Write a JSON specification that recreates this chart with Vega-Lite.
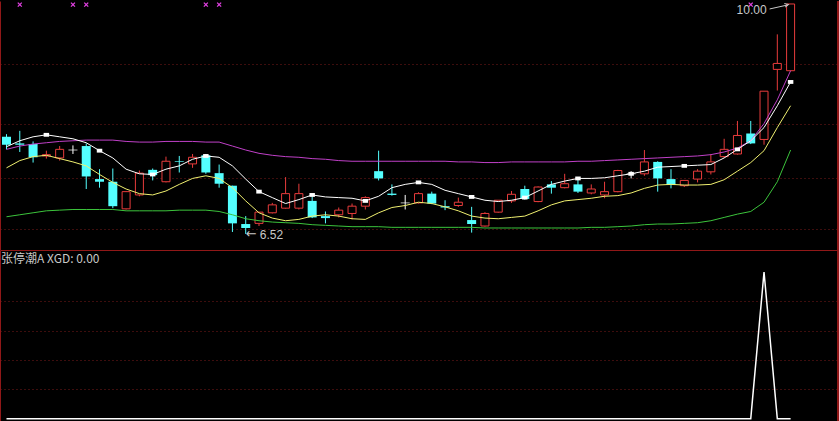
{
"$schema": "https://vega.github.io/schema/vega-lite/v6.json",
"background": "#000000",
"padding": 0,
"spacing": 0,
"bounds": "flush",
"config": {"view": {"stroke": null}, "scale": {"continuousPadding": 0}},
"datasets": {"k": [
{"i":0,"o":7.99,"h":8.03,"l":7.80,"c":7.87,"wma":7.84,"yma":7.52,"gma":6.78,"mma":7.80,"sig":0,"xgd":0},
{"i":1,"o":7.89,"h":8.08,"l":7.76,"c":7.87,"wma":7.93,"yma":7.63,"gma":6.81,"mma":7.85,"sig":1,"xgd":0},
{"i":2,"o":7.88,"h":7.92,"l":7.60,"c":7.68,"wma":7.99,"yma":7.69,"gma":6.84,"mma":7.88,"sig":0,"xgd":0},
{"i":3,"o":7.70,"h":7.78,"l":7.66,"c":7.72,"wma":8.02,"yma":7.71,"gma":6.87,"mma":7.90,"sig":0,"xgd":0},
{"i":4,"o":7.67,"h":7.85,"l":7.63,"c":7.80,"wma":7.99,"yma":7.66,"gma":6.88,"mma":7.92,"sig":0,"xgd":0},
{"i":5,"o":7.79,"h":7.86,"l":7.73,"c":7.79,"wma":7.96,"yma":7.61,"gma":6.89,"mma":7.93,"sig":1,"xgd":0},
{"i":6,"o":7.85,"h":7.89,"l":7.20,"c":7.39,"wma":7.90,"yma":7.55,"gma":6.89,"mma":7.94,"sig":1,"xgd":0},
{"i":7,"o":7.35,"h":7.50,"l":7.22,"c":7.31,"wma":7.78,"yma":7.42,"gma":6.89,"mma":7.94,"sig":0,"xgd":0},
{"i":8,"o":7.31,"h":7.51,"l":6.91,"c":6.94,"wma":7.67,"yma":7.30,"gma":6.89,"mma":7.94,"sig":0,"xgd":0},
{"i":9,"o":6.90,"h":7.17,"l":6.89,"c":7.16,"wma":7.50,"yma":7.20,"gma":6.87,"mma":7.92,"sig":0,"xgd":0},
{"i":10,"o":7.11,"h":7.48,"l":7.09,"c":7.44,"wma":7.43,"yma":7.13,"gma":6.87,"mma":7.91,"sig":0,"xgd":0},
{"i":11,"o":7.49,"h":7.51,"l":7.33,"c":7.41,"wma":7.42,"yma":7.11,"gma":6.87,"mma":7.91,"sig":0,"xgd":0},
{"i":12,"o":7.31,"h":7.69,"l":7.30,"c":7.62,"wma":7.50,"yma":7.17,"gma":6.87,"mma":7.92,"sig":0,"xgd":0},
{"i":13,"o":7.62,"h":7.70,"l":7.45,"c":7.61,"wma":7.55,"yma":7.27,"gma":6.88,"mma":7.92,"sig":0,"xgd":0},
{"i":14,"o":7.58,"h":7.73,"l":7.52,"c":7.68,"wma":7.65,"yma":7.36,"gma":6.88,"mma":7.92,"sig":0,"xgd":0},
{"i":15,"o":7.71,"h":7.73,"l":7.43,"c":7.45,"wma":7.70,"yma":7.40,"gma":6.88,"mma":7.91,"sig":1,"xgd":0},
{"i":16,"o":7.44,"h":7.57,"l":7.22,"c":7.28,"wma":7.68,"yma":7.36,"gma":6.86,"mma":7.91,"sig":1,"xgd":0},
{"i":17,"o":7.25,"h":7.25,"l":6.55,"c":6.68,"wma":7.55,"yma":7.22,"gma":6.81,"mma":7.85,"sig":0,"xgd":0},
{"i":18,"o":6.67,"h":6.79,"l":6.52,"c":6.61,"wma":7.35,"yma":7.02,"gma":6.75,"mma":7.79,"sig":0,"xgd":0},
{"i":19,"o":6.68,"h":6.85,"l":6.64,"c":6.85,"wma":7.16,"yma":6.84,"gma":6.72,"mma":7.74,"sig":0,"xgd":0},
{"i":20,"o":6.84,"h":6.99,"l":6.83,"c":6.96,"wma":7.07,"yma":6.76,"gma":6.70,"mma":7.71,"sig":0,"xgd":0},
{"i":21,"o":6.91,"h":7.38,"l":6.90,"c":7.13,"wma":6.98,"yma":6.72,"gma":6.69,"mma":7.69,"sig":0,"xgd":0},
{"i":22,"o":6.91,"h":7.28,"l":6.89,"c":7.13,"wma":7.04,"yma":6.74,"gma":6.68,"mma":7.68,"sig":0,"xgd":0},
{"i":23,"o":7.02,"h":7.09,"l":6.76,"c":6.77,"wma":7.11,"yma":6.79,"gma":6.66,"mma":7.66,"sig":0,"xgd":0},
{"i":24,"o":6.79,"h":6.86,"l":6.68,"c":6.76,"wma":7.08,"yma":6.81,"gma":6.65,"mma":7.65,"sig":0,"xgd":0},
{"i":25,"o":6.81,"h":6.92,"l":6.77,"c":6.88,"wma":7.07,"yma":6.79,"gma":6.64,"mma":7.63,"sig":0,"xgd":0},
{"i":26,"o":6.83,"h":6.98,"l":6.74,"c":6.94,"wma":7.06,"yma":6.75,"gma":6.63,"mma":7.62,"sig":0,"xgd":0},
{"i":27,"o":6.94,"h":7.09,"l":6.89,"c":7.07,"wma":7.02,"yma":6.74,"gma":6.63,"mma":7.62,"sig":0,"xgd":0},
{"i":28,"o":7.47,"h":7.78,"l":7.33,"c":7.36,"wma":7.09,"yma":6.84,"gma":6.63,"mma":7.62,"sig":0,"xgd":0},
{"i":29,"o":7.13,"h":7.27,"l":7.10,"c":7.11,"wma":7.22,"yma":6.92,"gma":6.62,"mma":7.62,"sig":0,"xgd":0},
{"i":30,"o":6.99,"h":7.11,"l":6.89,"c":6.99,"wma":7.27,"yma":6.95,"gma":6.62,"mma":7.62,"sig":0,"xgd":0},
{"i":31,"o":6.99,"h":7.15,"l":6.98,"c":7.13,"wma":7.30,"yma":7.00,"gma":6.62,"mma":7.62,"sig":0,"xgd":0},
{"i":32,"o":7.13,"h":7.16,"l":6.97,"c":6.98,"wma":7.27,"yma":6.98,"gma":6.62,"mma":7.62,"sig":0,"xgd":0},
{"i":33,"o":6.94,"h":7.03,"l":6.88,"c":6.92,"wma":7.18,"yma":6.93,"gma":6.62,"mma":7.62,"sig":0,"xgd":0},
{"i":34,"o":6.95,"h":7.07,"l":6.93,"c":7.00,"wma":7.13,"yma":6.87,"gma":6.62,"mma":7.61,"sig":0,"xgd":0},
{"i":35,"o":6.73,"h":6.93,"l":6.54,"c":6.67,"wma":7.08,"yma":6.79,"gma":6.62,"mma":7.61,"sig":0,"xgd":0},
{"i":36,"o":6.64,"h":6.85,"l":6.63,"c":6.83,"wma":7.03,"yma":6.76,"gma":6.61,"mma":7.60,"sig":0,"xgd":0},
{"i":37,"o":6.85,"h":7.03,"l":6.84,"c":7.03,"wma":7.01,"yma":6.75,"gma":6.61,"mma":7.60,"sig":0,"xgd":0},
{"i":38,"o":7.02,"h":7.17,"l":6.99,"c":7.12,"wma":7.03,"yma":6.77,"gma":6.61,"mma":7.61,"sig":0,"xgd":0},
{"i":39,"o":7.20,"h":7.25,"l":7.04,"c":7.05,"wma":7.07,"yma":6.79,"gma":6.61,"mma":7.61,"sig":0,"xgd":0},
{"i":40,"o":7.01,"h":7.24,"l":7.00,"c":7.23,"wma":7.17,"yma":6.87,"gma":6.61,"mma":7.61,"sig":0,"xgd":0},
{"i":41,"o":7.27,"h":7.32,"l":7.13,"c":7.22,"wma":7.27,"yma":6.96,"gma":6.61,"mma":7.61,"sig":0,"xgd":0},
{"i":42,"o":7.22,"h":7.43,"l":7.21,"c":7.28,"wma":7.32,"yma":7.02,"gma":6.61,"mma":7.61,"sig":0,"xgd":0},
{"i":43,"o":7.27,"h":7.37,"l":7.14,"c":7.16,"wma":7.36,"yma":7.04,"gma":6.61,"mma":7.62,"sig":0,"xgd":0},
{"i":44,"o":7.14,"h":7.27,"l":7.12,"c":7.20,"wma":7.36,"yma":7.06,"gma":6.62,"mma":7.62,"sig":0,"xgd":0},
{"i":45,"o":7.11,"h":7.31,"l":7.06,"c":7.16,"wma":7.37,"yma":7.09,"gma":6.62,"mma":7.63,"sig":0,"xgd":0},
{"i":46,"o":7.16,"h":7.49,"l":7.15,"c":7.48,"wma":7.40,"yma":7.10,"gma":6.63,"mma":7.64,"sig":0,"xgd":0},
{"i":47,"o":7.43,"h":7.47,"l":7.36,"c":7.43,"wma":7.43,"yma":7.14,"gma":6.64,"mma":7.65,"sig":0,"xgd":0},
{"i":48,"o":7.43,"h":7.79,"l":7.40,"c":7.61,"wma":7.47,"yma":7.21,"gma":6.66,"mma":7.66,"sig":0,"xgd":0},
{"i":49,"o":7.61,"h":7.62,"l":7.16,"c":7.36,"wma":7.53,"yma":7.26,"gma":6.67,"mma":7.67,"sig":0,"xgd":0},
{"i":50,"o":7.35,"h":7.50,"l":7.21,"c":7.26,"wma":7.54,"yma":7.27,"gma":6.67,"mma":7.68,"sig":0,"xgd":0},
{"i":51,"o":7.25,"h":7.33,"l":7.23,"c":7.33,"wma":7.55,"yma":7.26,"gma":6.68,"mma":7.69,"sig":0,"xgd":0},
{"i":52,"o":7.35,"h":7.50,"l":7.30,"c":7.47,"wma":7.56,"yma":7.26,"gma":6.69,"mma":7.70,"sig":0,"xgd":0},
{"i":53,"o":7.46,"h":7.73,"l":7.42,"c":7.61,"wma":7.57,"yma":7.27,"gma":6.72,"mma":7.72,"sig":0,"xgd":0},
{"i":54,"o":7.69,"h":7.96,"l":7.67,"c":7.80,"wma":7.67,"yma":7.34,"gma":6.77,"mma":7.76,"sig":0,"xgd":0},
{"i":55,"o":7.73,"h":8.23,"l":7.72,"c":8.01,"wma":7.80,"yma":7.47,"gma":6.82,"mma":7.82,"sig":0,"xgd":0},
{"i":56,"o":8.04,"h":8.23,"l":7.88,"c":7.89,"wma":7.93,"yma":7.60,"gma":6.86,"mma":7.93,"sig":1,"xgd":0},
{"i":57,"o":7.95,"h":8.68,"l":7.87,"c":8.68,"wma":8.13,"yma":7.78,"gma":7.00,"mma":8.19,"sig":0,"xgd":1},
{"i":58,"o":9.01,"h":9.54,"l":8.69,"c":9.10,"wma":8.46,"yma":8.13,"gma":7.31,"mma":8.55,"sig":0,"xgd":0},
{"i":59,"o":8.99,"h":10.00,"l":8.99,"c":10.00,"wma":8.82,"yma":8.46,"gma":7.79,"mma":8.99,"sig":0,"xgd":0}
]},
"vconcat": [
{
 "width": 838, "height": 249,
 "data": {"name": "k"},
 "encoding": {"x": {"field": "i", "type": "quantitative", "scale": {"domain": [-0.489, 62.566], "nice": false, "zero": false, "padding": 0}, "axis": null}},
 "layer": [
  {"transform": [{"filter": "datum.c > datum.o"}],
   "mark": {"type": "rule", "color": "#e83c3c", "strokeWidth": 1},
   "encoding": {"y": {"field": "h", "type": "quantitative", "title": null, "scale": {"domain": [6.277, 10.045], "nice": false, "zero": false, "padding": 0},
     "axis": {"values": [6.6, 7.362, 8.179, 9.096], "labels": false, "ticks": false, "domain": true, "domainColor": "#901818", "domainWidth": 1, "grid": true, "gridColor": "#7a1a1a", "gridDash": [1, 3], "title": null}},
    "y2": {"field": "c"}}},
  {"mark": {"type": "rule", "color": "#901818", "strokeWidth": 1},
   "encoding": {"x": {"datum": 62.566, "type": "quantitative"}}},
  {"transform": [{"filter": "datum.c > datum.o"}],
   "mark": {"type": "rule", "color": "#e83c3c", "strokeWidth": 1},
   "encoding": {"y": {"field": "o", "type": "quantitative", "title": null}, "y2": {"field": "l"}}},
  {"transform": [{"filter": "datum.c <= datum.o"}],
   "mark": {"type": "rule", "strokeWidth": 1},
   "encoding": {"y": {"field": "h", "type": "quantitative", "title": null}, "y2": {"field": "l"},
    "color": {"condition": {"test": "datum.c == datum.o", "value": "#ffffff"}, "value": "#54ffff"}}},
  {"transform": [{"filter": "datum.c > datum.o"}],
   "mark": {"type": "bar", "width": 8, "fill": "#000000", "stroke": "#e83c3c", "strokeWidth": 1},
   "encoding": {"y": {"field": "o", "type": "quantitative", "title": null}, "y2": {"field": "c"}}},
  {"transform": [{"filter": "datum.c < datum.o"}],
   "mark": {"type": "bar", "width": 9, "color": "#54ffff"},
   "encoding": {"y": {"field": "o", "type": "quantitative", "title": null}, "y2": {"field": "c"}}},
  {"transform": [{"filter": "datum.c == datum.o"}],
   "mark": {"type": "tick", "orient": "horizontal", "size": 9, "thickness": 1, "color": "#ffffff"},
   "encoding": {"y": {"field": "c", "type": "quantitative", "title": null}}},
  {"mark": {"type": "line", "color": "#3cc43c", "strokeWidth": 1},
   "encoding": {"y": {"field": "gma", "type": "quantitative", "title": null}}},
  {"mark": {"type": "line", "color": "#f0f070", "strokeWidth": 1},
   "encoding": {"y": {"field": "yma", "type": "quantitative", "title": null}}},
  {"mark": {"type": "line", "color": "#c040c8", "strokeWidth": 1},
   "encoding": {"y": {"field": "mma", "type": "quantitative", "title": null}}},
  {"mark": {"type": "line", "color": "#ffffff", "strokeWidth": 1},
   "encoding": {"y": {"field": "wma", "type": "quantitative", "title": null}}},
  {"transform": [{"filter": "datum.i % 4 == 3"}],
   "mark": {"type": "point", "shape": "M-1,-0.7L1,-0.7L1,0.7L-1,0.7Z", "filled": true, "size": 30, "color": "#ffffff", "opacity": 1},
   "encoding": {"y": {"field": "wma", "type": "quantitative", "title": null}}},
  {"transform": [{"filter": "datum.sig == 1"}],
   "mark": {"type": "point", "shape": "M-1,-1L1,1M-1,1L1,-1", "filled": false, "size": 16, "stroke": "#e040e0", "strokeWidth": 1.3, "opacity": 1},
   "encoding": {"y": {"datum": 9.99, "type": "quantitative"}}},
  {"transform": [{"filter": "datum.i == 59"}],
   "mark": {"type": "text", "align": "right", "baseline": "middle", "dx": -24, "dy": 6, "font": "Liberation Sans", "fontSize": 12, "color": "#c8c8c8"},
   "encoding": {"y": {"field": "h", "type": "quantitative", "title": null}, "text": {"field": "h", "format": ".2f"}}},
  {"transform": [{"filter": "datum.i == 59"}],
   "mark": {"type": "rule", "color": "#c8c8c8", "strokeWidth": 1, "xOffset": -21, "x2Offset": -3, "yOffset": 5, "y2Offset": 1},
   "encoding": {"y": {"field": "h", "type": "quantitative", "title": null}, "x2": {"field": "i"}, "y2": {"field": "h"}}},
  {"transform": [{"filter": "datum.i == 59"}],
   "mark": {"type": "point", "shape": "M-1,-1L1,0L-1,1", "filled": false, "size": 14, "stroke": "#c8c8c8", "strokeWidth": 1, "opacity": 1, "angle": 346, "xOffset": -4, "yOffset": 1},
   "encoding": {"y": {"field": "h", "type": "quantitative", "title": null}}},
  {"transform": [{"filter": "datum.i == 18"}],
   "mark": {"type": "text", "text": "←", "align": "left", "baseline": "middle", "dx": 0, "dy": 0, "font": "DejaVu Sans", "fontSize": 13, "color": "#c8c8c8"},
   "encoding": {"y": {"field": "l", "type": "quantitative", "title": null}}},
  {"transform": [{"filter": "datum.i == 18"}],
   "mark": {"type": "text", "align": "left", "baseline": "middle", "dx": 14, "dy": 1, "font": "Liberation Sans", "fontSize": 12, "color": "#c8c8c8"},
   "encoding": {"y": {"field": "l", "type": "quantitative", "title": null}, "text": {"field": "l", "format": ".2f"}}}
 ]
},
{
 "width": 838, "height": 172,
 "data": {"name": "k"},
 "encoding": {"x": {"field": "i", "type": "quantitative", "title": null, "scale": {"domain": [-0.489, 62.566], "nice": false, "zero": false, "padding": 0},
   "axis": {"orient": "top", "labels": false, "ticks": false, "grid": false, "domain": true, "domainColor": "#901818", "domainWidth": 1, "title": null}}},
 "layer": [
  {"mark": {"type": "line", "color": "#ffffff", "strokeWidth": 1.5},
   "encoding": {"y": {"field": "xgd", "type": "quantitative", "title": null, "scale": {"domain": [-0.0225, 1.15], "nice": false, "zero": false, "padding": 0},
     "axis": {"values": [0.2, 0.4, 0.6, 0.8], "labels": false, "ticks": false, "domain": true, "domainColor": "#901818", "domainWidth": 1, "grid": true, "gridColor": "#7a1a1a", "gridDash": [1, 3], "title": null}}}},
  {"mark": {"type": "rule", "color": "#901818", "strokeWidth": 1},
   "encoding": {"x": {"datum": 62.566, "type": "quantitative"}}},
  {"transform": [{"filter": "datum.i == 0"}],
   "mark": {"type": "text", "text": "张停潮A XGD: 0.00", "align": "left", "baseline": "middle", "dx": 1, "font": "Noto Sans CJK SC", "fontSize": 12, "color": "#c8c8c8"},
   "encoding": {"x": {"datum": -0.489, "type": "quantitative"}, "y": {"datum": 1.089, "type": "quantitative"}}}
 ]
}
]
}
